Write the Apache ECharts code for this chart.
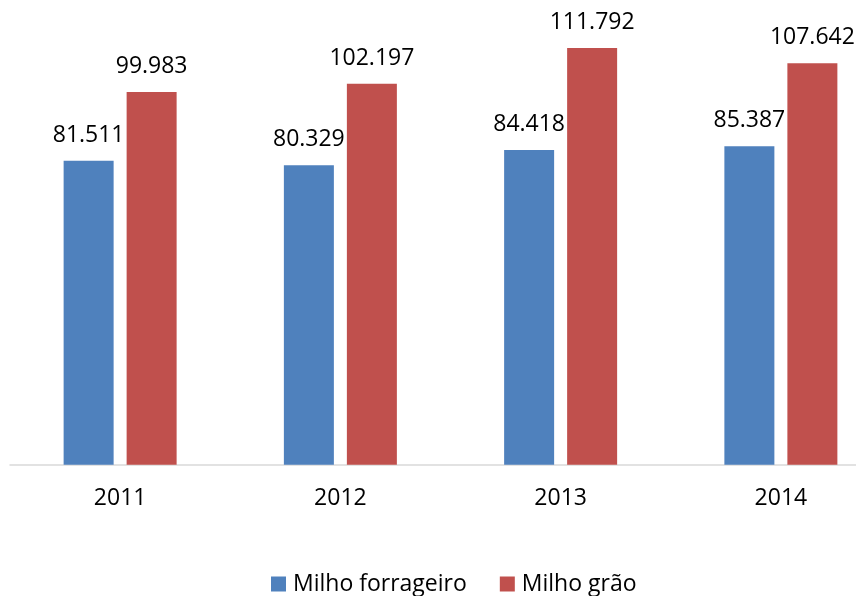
<!DOCTYPE html>
<html lang="pt">
<head>
    <meta charset="UTF-8">
    <script src="https://cdn.jsdelivr.net/npm/echarts@6/dist/echarts.min.js"></script>
    <title>Milho</title>
    <style type="text/css">
        html, body { margin: 0; padding: 0; background: #fff; overflow: hidden; }
        /* o gráfico original está cortado à direita: a área passa da janela */
        #chart { width: 891px; height: 596px; }
    </style>
</head>
<body>
<div id="chart"></div>
<script type="text/javascript">
    // dados
    const anos = ['2011', '2012', '2013', '2014'];
    const forrageiro = [81.511, 80.329, 84.418, 85.387];
    const grao = [99.983, 102.197, 111.792, 107.642];

    const fonte = '"Open Sans", "DejaVu Sans", sans-serif';

    const myChart = echarts.init(document.getElementById('chart'));

    const rotulo = {
        show: true,
        position: 'top',
        distance: 14,
        color: '#000',
        fontFamily: fonte,
        fontSize: 23,
        formatter: function (p) { return p.value.toFixed(3); }
    };

    const option = {
        animation: false,
        grid: { left: 10, right: 0, top: 17.3, height: 447.4 },
        legend: {
            left: 271,
            top: 572.5,
            padding: 0,
            itemWidth: 15,
            itemHeight: 15,
            itemGap: 33,
            icon: 'rect',
            textStyle: { fontFamily: fonte, fontSize: 23, lineHeight: 23, color: '#000', padding: [0, 0, 0, 2] },
            data: ['Milho forrageiro', 'Milho grão']
        },
        xAxis: {
            type: 'category',
            data: anos,
            axisLine: { lineStyle: { color: '#d9d9d9', width: 1.5 } },
            axisTick: { show: false },
            axisLabel: { margin: 22, color: '#000', fontFamily: fonte, fontSize: 23 }
        },
        yAxis: {
            type: 'value',
            min: 0,
            max: 120,
            show: false,
            splitLine: { show: false }
        },
        series: [
            {
                name: 'Milho forrageiro',
                type: 'bar',
                data: forrageiro,
                barWidth: 50,
                barGap: '26%',
                itemStyle: { color: '#4f81bd' },
                label: rotulo
            },
            {
                name: 'Milho grão',
                type: 'bar',
                data: grao,
                barWidth: 50,
                itemStyle: { color: '#c0504d' },
                label: rotulo
            }
        ]
    };

    myChart.setOption(option);
</script>
</body>
</html>
